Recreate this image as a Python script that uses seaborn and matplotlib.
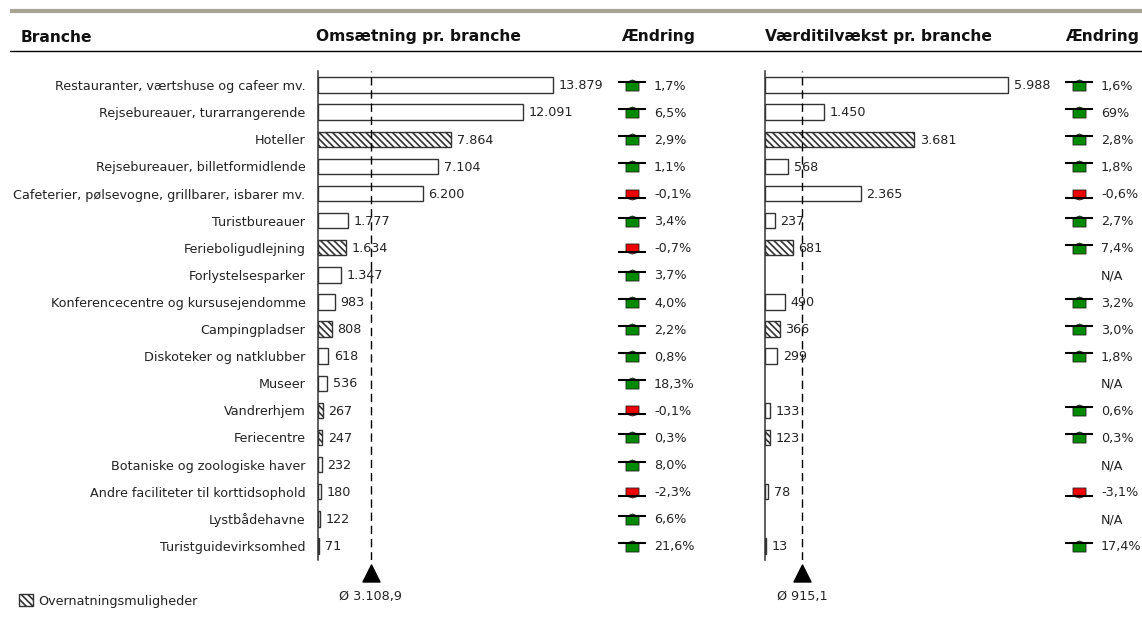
import numpy as np
import pandas as pd
import seaborn as sns
import matplotlib.pyplot as plt
from matplotlib.path import Path
from matplotlib.patches import Patch

sns.set_style('white')
plt.rcParams['font.family'] = ['DejaVu Sans']
plt.rcParams['hatch.linewidth'] = 1.2
plt.rcParams['hatch.color'] = '#808080'

branches = ['Restauranter, værtshuse og cafeer mv.', 'Rejsebureauer, turarrangerende', 'Hoteller',
            'Rejsebureauer, billetformidlende', 'Cafeterier, pølsevogne, grillbarer, isbarer mv.',
            'Turistbureauer', 'Ferieboligudlejning', 'Forlystelsesparker',
            'Konferencecentre og kursusejendomme', 'Campingpladser', 'Diskoteker og natklubber',
            'Museer', 'Vandrerhjem', 'Feriecentre', 'Botaniske og zoologiske haver',
            'Andre faciliteter til korttidsophold', 'Lystbådehavne', 'Turistguidevirksomhed']
omsaetning = [13879, 12091, 7864, 7104, 6200, 1777, 1634, 1347, 983, 808, 618, 536, 267, 247, 232, 180, 122, 71]
vaerdi = [5988, 1450, 3681, 568, 2365, 237, 681, None, 490, 366, 299, None, 133, 123, None, 78, None, 13]
aendring_oms = [1.7, 6.5, 2.9, 1.1, -0.1, 3.4, -0.7, 3.7, 4.0, 2.2, 0.8, 18.3, -0.1, 0.3, 8.0, -2.3, 6.6, 21.6]
aendring_vaerdi = [1.6, 69, 2.8, 1.8, -0.6, 2.7, 7.4, None, 3.2, 3.0, 1.8, None, 0.6, 0.3, None, -3.1, None, 17.4]
overnatning_oms = ['Hoteller', 'Ferieboligudlejning', 'Campingpladser', 'Vandrerhjem', 'Feriecentre']
overnatning_vaerdi = ['Hoteller', 'Ferieboligudlejning', 'Campingpladser', 'Feriecentre']
snit_oms = 3108.9
snit_vaerdi = 915.1

W, H = 1142, 628
fig = plt.figure(figsize=(W / 100, H / 100), dpi=100)
TXT = '#222222'
FS = 9.15
HATCH = '\\\\\\\\\\'

# pixel box -> figure axes
def px_axes(x0, y0, x1, y1):
    ax = fig.add_axes([x0 / W, 1 - y1 / H, (x1 - x0) / W, (y1 - y0) / H])
    ax.patch.set_alpha(0)
    return ax

def fmt(v):
    return f'{v:,.0f}'.replace(',', '.')

def fmt_pct(v):
    if pd.isna(v):
        return 'N/A'
    if v == 69:
        return '69%'
    return f'{v:.1f}%'.replace('.', ',')

# house shaped change markers, drawn in pixels
up = Path([(-6.5, 3), (0, 5.5), (6.5, 3), (6.5, -5.5), (-6.5, -5.5), (-6.5, 3)], closed=True)
down = Path([(-6.5, -3.5), (0, -5.5), (6.5, -3.5), (6.5, 4.5), (-6.5, 4.5), (-6.5, -3.5)], closed=True)

def bar_panel(x0, x1, values, changes, hatched, xmax, snit, chg_x, pct_x):
    df = pd.DataFrame({'branche': branches, 'v': pd.to_numeric(pd.Series(values))})
    ax = px_axes(x0, 71, x1, 560)
    sns.barplot(data=df, y='branche', x='v', order=branches, ax=ax, color='white',
                edgecolor='#333333', linewidth=1.0, width=0.57, saturation=1)
    for p in ax.patches:
        row = int(round(p.get_y() + p.get_height() / 2))
        if np.isnan(p.get_width()):
            continue
        if branches[row] in hatched:
            p.set_hatch(HATCH)
        ax.annotate(fmt(df['v'][row]), (df['v'][row], row), xytext=(4, -0.5), textcoords='offset points',
                    va='center', ha='left', fontsize=FS, color=TXT, zorder=6)
    ax.set_xlim(0, xmax)
    ax.set_ylim(17.52, -0.52)
    sns.despine(ax=ax, top=True, right=True, bottom=True)
    ax.spines['left'].set_color('#333333')
    ax.spines['left'].set_linewidth(1.1)
    ax.set_xlabel('')
    ax.set_ylabel('')
    ax.set_xticks([])
    ax.axvline(snit, color='black', lw=1.0, dashes=(6, 3.5))
    ax.scatter([snit], [18.0], marker='^', s=150, color='black', clip_on=False, zorder=5)
    ax.text(snit, 18.88, 'Ø ' + f'{snit:,.1f}'.replace(',', 'X').replace('.', ',').replace('X', '.'),
            ha='center', va='center', fontsize=FS, color=TXT, clip_on=False)

    # change column
    c = pd.DataFrame({'row': range(len(changes)), 'chg': pd.to_numeric(pd.Series(changes))})
    ok = c.dropna()
    cax = px_axes(chg_x - 30, 71, chg_x + 90, 560)
    cax.set_xlim(-30, 90)
    cax.set_ylim(17.52, -0.52)
    cax.axis('off')
    for sub, marker, col, lift in [(ok[ok.chg >= 0], up, '#008a00', -0.11), (ok[ok.chg < 0], down, '#ee0000', 0.15)]:
        cax.scatter(np.zeros(len(sub)), sub.row, marker=marker, s=88, color=col,
                    edgecolor='#222222', linewidth=0.6, zorder=3)
        cax.scatter(np.zeros(len(sub)), sub.row + lift, marker='_', s=378, color='black', linewidth=1.5, zorder=4)
    for r, v in zip(c.row, c.chg):
        cax.text(pct_x - chg_x, r + 0.04, fmt_pct(v), ha='left', va='center', fontsize=FS, color=TXT)
    return ax

ax1 = bar_panel(318, 610, omsaetning, aendring_oms, overnatning_oms, 292 / 235 * 13879, snit_oms, 632, 654)
ax2 = bar_panel(765, 1060, vaerdi, aendring_vaerdi, overnatning_vaerdi, 295 / 243 * 5988, snit_vaerdi, 1079, 1101)

ax1.set_yticks(range(len(branches)))
ax1.set_yticklabels(branches, fontsize=FS, color=TXT)
ax1.tick_params(axis='y', length=0, pad=9)
ax2.set_yticks([])

# headers and rules
for x, s in [(21, 'Branche'), (316, 'Omsætning pr. branche'), (621, 'Ændring'),
             (765, 'Værditilvækst pr. branche'), (1065, 'Ændring')]:
    fig.text(x / W, 1 - 37 / H, s, fontsize=11.2, fontweight='bold', va='center', ha='left', color='#111111')
fig.add_artist(plt.Line2D([10 / W, 1], [1 - 50.5 / H] * 2, color='black', lw=1.0))
fig.add_artist(plt.Line2D([10 / W, 1], [1 - 11 / H] * 2, color='#a8a596', lw=3.0, solid_capstyle='butt'))

leg = fig.legend(handles=[Patch(facecolor='white', edgecolor='#333333', hatch=HATCH, label='Overnatningsmuligheder')],
                 loc='center left', bbox_to_anchor=(8 / W, 1 - 601 / H), frameon=False, fontsize=FS,
                 handlelength=1.05, handleheight=1.05, handletextpad=0.45, labelcolor=TXT)

fig.savefig('out.png', dpi=100)
